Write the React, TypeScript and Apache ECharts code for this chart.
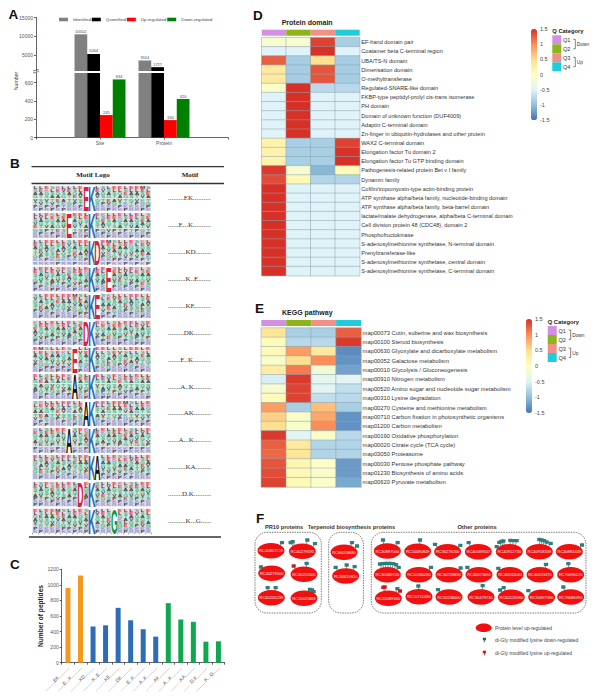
import React, { useEffect, useRef } from "react";
import * as echarts from "echarts";

const SANS = "Liberation Sans";
const SERIF = "Liberation Serif";

// Panel A
const aCategories = ["", "Site", "Protein", ""];
const aIdentified = [null, 10502, 3514, null];
const aQuantified = [null, 5244, 1727, null];
const aUp = [null, 245, 190, null];
const aDown = [null, 634, 420, null];
const aUpperTicks = [5000, 10000, 15000];
const aLowerTicks = [0, 200, 400, 600];

// Panels B and C
const motifStrings = [
  ".........EK..........",
  "......E...K..........",
  "..........KD.........",
  "..........K..E.......",
  "..........KE.........",
  ".........DK..........",
  ".......E..K..........",
  ".......A..K..........",
  ".........AK..........",
  "......A...K..........",
  "..........KA.........",
  "........D.K..........",
  "..........K...G......",
];
const motifLetter = ["E", "E", "D", "E", "E", "D", "E", "A", "A", "A", "A", "D", "G"];
const motifColumn = [9, 6, 11, 13, 11, 9, 7, 7, 9, 6, 11, 8, 14];
const peptideCounts = [960, 1120, 465, 480, 705, 545, 430, 335, 765, 555, 525, 270, 275];
const peptideGroup = ["o", "o", "b", "b", "b", "b", "b", "b", "g", "g", "g", "g", "g"];

const logoLettersA = [
  "LLESKLLLEELLSLEELEEMS",
  "SEKLEVESLLSEVSLLSLLEL",
  "AAGSGSAGAGTAGASGEAASE",
  "GTSAAGTEVKAVSGTAGSTVA",
  "VSVTEATVSSLGTEAVTGVKT",
  "TVTVTKGPTGESPVGTKTPGG",
  "PKPKPTKKPKGKKKKPKKKKP",
  "KPRPKPRRKRPRRPRKPRRPK",
];
const logoLettersB = [
  "ELSLLEKLSLEELSEKLLELL",
  "LSELVLESEESLEVLSEEKSE",
  "GEASAGGAASAGSAGESAGAA",
  "SAGVGTSTGTGVTGSAGTSGS",
  "ATVETVAGVGVTAVTVTSATV",
  "PGTGSPTESPTSPTPGVPTPT",
  "KKPKPKPKKKPKRKKPKKPKK",
  "RPKRKRKPRPKRPPRKPRKRP",
];
const logoBandTints = ["#EAD9DC", "#EAD9DC", "#CFE6DC", "#CFE6DC", "#D3DFD6", "#D3DFD6", "#D9D8EA", "#D9D8EA"];

// Panel D
const qCategories = ["Q1", "Q2", "Q3", "Q4"];
const domainNames = [
  "EF-hand domain pair",
  "Coatamer beta C-terminal region",
  "UBA/TS-N domain",
  "Dimerisation domain",
  "O-methyltransferase",
  "Regulated-SNARE-like domain",
  "FKBP-type peptidyl-prolyl cis-trans isomerase",
  "PH domain",
  "Domain of unknown function (DUF4009)",
  "Adaptin C-terminal domain",
  "Zn-finger in ubiquitin-hydrolases and other protein",
  "WAX2 C-terminal domain",
  "Elongation factor Tu domain 2",
  "Elongation factor Tu GTP binding domain",
  "Pathogenesis-related protein Bet v I family",
  "Dynamin family",
  "Cofilin/tropomyosin-type actin-binding protein",
  "ATP synthase alpha/beta family, nucleotide-binding domain",
  "ATP synthase alpha/beta family, beta-barrel domain",
  "lactate/malate dehydrogenase, alpha/beta C-terminal domain",
  "Cell division protein 48 (CDC48), domain 2",
  "Phosphofructokinase",
  "S-adenosylmethionine synthetase, N-terminal domain",
  "Prenyltransferase-like",
  "S-adenosylmethionine synthetase, central domain",
  "S-adenosylmethionine synthetase, C-terminal domain",
];
const domainValues = [
  [-0.15, -0.15, 1.4, -0.85],
  [-0.5, -0.5, 1.5, -0.5],
  [1.25, -0.87, 0.5, -0.87],
  [0.35, -0.87, 1.3, -0.87],
  [0.35, -0.87, 1.3, -0.87],
  [-0.1, 1.5, -0.75, -0.75],
  [-0.5, 1.5, -0.5, -0.5],
  [-0.5, 1.5, -0.5, -0.5],
  [-0.5, 1.5, -0.5, -0.5],
  [-0.5, 1.5, -0.5, -0.5],
  [-0.5, 1.5, -0.5, -0.5],
  [0.2, -0.85, -0.85, 1.4],
  [0.2, -0.85, -0.85, 1.5],
  [0.2, -0.85, -0.85, 1.5],
  [1.45, -0.15, -1.05, 0.05],
  [1.35, 0.1, -0.8, -0.8],
  [1.5, -0.5, -0.5, -0.5],
  [1.5, -0.5, -0.5, -0.5],
  [1.5, -0.5, -0.5, -0.5],
  [1.5, -0.5, -0.5, -0.5],
  [1.5, -0.5, -0.5, -0.5],
  [1.5, -0.5, -0.5, -0.5],
  [1.5, -0.5, -0.5, -0.5],
  [1.5, -0.5, -0.5, -0.5],
  [1.5, -0.5, -0.5, -0.5],
  [1.5, -0.5, -0.5, -0.5],
];

// Panel E
const keggNames = [
  "map00073 Cutin, suberine and wax biosynthesis",
  "map00100 Steroid biosynthesis",
  "map00630 Glyoxylate and dicarboxylate metabolism",
  "map00052 Galactose metabolism",
  "map00010 Glycolysis / Gluconeogenesis",
  "map00910 Nitrogen metabolism",
  "map00520 Amino sugar and nucleotide sugar metabolism",
  "map00310 Lysine degradation",
  "map00270 Cysteine and methionine metabolism",
  "map00710 Carbon fixation in photosynthetic organisms",
  "map01200 Carbon metabolism",
  "map00190 Oxidative phosphorylation",
  "map00020 Citrate cycle (TCA cycle)",
  "map03050 Proteasome",
  "map00030 Pentose phosphate pathway",
  "map01230 Biosynthesis of amino acids",
  "map00620 Pyruvate metabolism",
];
const keggValues = [
  [0.4, -0.85, -0.85, 1.25],
  [0.05, -0.75, -0.75, 1.45],
  [0.1, 0.9, 0.35, -1.35],
  [-0.1, 0.5, 1.0, -1.3],
  [0.3, 1.1, -0.2, -1.2],
  [-0.55, 1.45, -0.4, -0.45],
  [-0.15, 1.4, -0.45, -0.7],
  [0.05, 1.4, -0.7, -0.75],
  [0.9, -0.85, 0.7, -0.85],
  [0.6, -0.1, 0.85, -1.3],
  [0.5, -0.1, 1.0, -1.3],
  [1.45, -0.45, -0.1, -0.75],
  [1.25, 0.35, -0.8, -0.8],
  [1.2, 0.4, -0.8, -0.8],
  [1.3, 0.15, -0.05, -1.25],
  [1.35, 0.1, -0.1, -1.25],
  [1.4, 0.1, -0.1, -1.15],
];

// Panel F: network nodes and their modification pins
const proteinNodes: [string, number, number][] = [
  ["RC40817729", 63, 122], ["RC40279595", 157, 124], ["RC40279500", 65, 190], ["RC40251500", 162, 193],
  ["RC40205239", 64, 263], ["RC10025869", 162, 265], ["RC60018680", 282, 127], ["RC60019810", 287, 198],
  ["RC30897000", 412, 123], ["RC10080849", 503, 124], ["RC30276200", 593, 125], ["RC40089507", 685, 125],
  ["RC40912730", 778, 125], ["RC40918339", 868, 125], ["RC40884449", 958, 125],
  ["RC30069740", 412, 194], ["RC10080280", 507, 194], ["RC30259890", 597, 194], ["RC40071690", 687, 194],
  ["RC40532040", 780, 194], ["RC40533370", 870, 194], ["RC70096170", 962, 194],
  ["RC30089360", 415, 265], ["RC20711480", 507, 260], ["RC50236000", 597, 261], ["RC30479730", 693, 261],
  ["RC60126980", 784, 262], ["RC50397390", 875, 262], ["RC70086390", 962, 261],
];
const pinUp = 1;
const modificationPins: [number, number, number, number][] = [
  [0, 96, 98, 0], [1, 122, 98, 0], [1, 128, 95, 0], [1, 172, 90, 0], [1, 195, 101, 0],
  [2, 33, 171, 0], [3, 131, 168, 1], [3, 170, 160, 0], [4, 53, 233, 0], [4, 77, 233, 0],
  [5, 180, 238, 0], [5, 186, 240, 0], [5, 191, 245, 0],
  [6, 306, 98, 0], [6, 321, 108, 0], [7, 257, 172, 0], [7, 290, 165, 0], [7, 314, 170, 0],
  [8, 399, 90, 0], [8, 443, 98, 0], [9, 510, 90, 0], [10, 555, 103, 0], [10, 631, 106, 0], [11, 656, 98, 0],
  [12, 740, 110, 0], [12, 748, 97, 0], [12, 754, 94, 0], [12, 760, 93, 0], [12, 781, 91, 0], [12, 790, 92, 0], [12, 800, 92, 0],
  [13, 868, 88, 0], [13, 875, 90, 0], [13, 882, 92, 0], [13, 890, 96, 0], [13, 902, 100, 0], [14, 996, 105, 0],
  [15, 390, 162, 0], [15, 398, 161, 0], [15, 406, 160, 0], [15, 414, 160, 0], [15, 422, 160, 0], [15, 430, 161, 0], [15, 438, 164, 0], [15, 446, 172, 0],
  [16, 543, 172, 0], [17, 632, 174, 0], [18, 652, 172, 0], [19, 745, 175, 0], [20, 888, 163, 0], [21, 955, 161, 0],
  [22, 400, 232, 1], [22, 404, 231, 1], [22, 442, 236, 0], [22, 450, 243, 1],
  [23, 505, 228, 0], [24, 564, 239, 0], [25, 698, 227, 0], [26, 750, 240, 0], [26, 761, 233, 0], [27, 835, 242, 0], [28, 940, 231, 0],
];

const residueColor = (c: string) => {
  if ("DE".includes(c)) return "#D8283C";
  if ("STGNQYC".includes(c)) return "#2FAE83";
  if ("KRH".includes(c)) return "#8C8FC9";
  return "#222222";
};
const qColors = ["#D38FE3", "#8DB51A", "#F28F86", "#1FCCDB"];
const heatColors = ["#4575B4", "#91BFDB", "#E0F3F8", "#FFFFBF", "#FEE090", "#FC8D59", "#D73027"];
const groupColors: Record<string, string> = { o: "#F39A1E", b: "#2E6DB4", g: "#0FA74F" };
const plainNumber = (v: number) => String(v);

function buildOption() {
  const g: any[] = [];
  const T = (text: string, x: number, y: number, fontSize: number, o: any = {}) =>
    g.push({
      type: "text", x, y, silent: true, rotation: o.rotation || 0,
      style: {
        text, fontSize, fontFamily: o.font || SANS, fontWeight: o.weight || "normal",
        fill: o.fill || "#333333", align: o.align || "left", verticalAlign: "middle",
      },
    });
  const L = (x1: number, y1: number, x2: number, y2: number, stroke = "#333", lineWidth = 0.7) =>
    g.push({ type: "line", silent: true, shape: { x1, y1, x2, y2 }, style: { stroke, lineWidth } });

  [["A", 8.5, 14.5], ["B", 10, 163.5], ["C", 10, 564], ["D", 253, 15], ["E", 255, 308], ["F", 256, 518.5]].forEach(
    ([t, x, y]: any) => T(t, x, y, 13.5, { weight: "bold", fill: "#111" })
  );

  // A: axis break marks
  L(33, 71, 39, 69.5, "#333", 0.6);
  L(33, 73, 39, 71.5, "#333", 0.6);
  T("Number", 16, 81, 5.2, { rotation: Math.PI / 2, align: "center", fill: "#444" });

  // B: table rules and headers
  L(31.5, 166.7, 224, 166.7, "#333", 1.3);
  L(31.5, 183.5, 224, 183.5, "#333", 1.3);
  L(29, 537, 221, 537, "#333", 1.3);
  T("Motif Logo", 93, 175, 7, { font: SERIF, weight: "bold", align: "center", fill: "#222" });
  T("Motif", 190, 175, 7, { font: SERIF, weight: "bold", align: "center", fill: "#222" });

  // D, E titles and category keys
  T("Protein domain", 281.7, 22, 7, { weight: "bold", fill: "#222" });
  T("KEGG pathway", 282, 312, 7, { weight: "bold", fill: "#222" });
  const key = (x: number, y: number) => {
    T("Q Category", x, y - 4.3, 5.8, { weight: "bold", fill: "#222" });
    qCategories.forEach((q, i) => {
      g.push({ type: "rect", silent: true, shape: { x, y: y + i * 9, width: 9, height: 9 }, style: { fill: qColors[i] } });
      T(q, x + 10.7, y + 4.5 + i * 9, 5.6);
    });
    [[y + 4, "Down"], [y + 22, "Up"]].forEach(([by, label]: any) => {
      g.push({
        type: "polyline", silent: true,
        shape: { points: [[x + 21, by], [x + 23, by], [x + 23, by + 9.4], [x + 21, by + 9.4]] },
        style: { stroke: "#333", lineWidth: 0.6, fill: "none" },
      });
      T(label, x + 24.5, by + 5, 4.8);
    });
  };
  key(552.3, 35.3);
  key(547.7, 326);

  // F: boxes, titles and key
  [[255, 66.3], [328.7, 34.7], [371.3, 214.7]].forEach(([x, width]) =>
    g.push({
      type: "rect", silent: true, shape: { x, y: 532.3, width, height: 80.7, r: 12 },
      style: { fill: "none", stroke: "#444", lineWidth: 0.7, lineDash: [1.5, 1] },
    })
  );
  T("PR10 proteins", 284, 527, 5.7, { weight: "bold", align: "center" });
  T("Terpenoid biosynthesis proteins", 351.5, 527, 5.7, { weight: "bold", align: "center" });
  T("Other proteins", 477, 527, 5.7, { weight: "bold", align: "center" });
  g.push({ type: "ellipse", silent: true, shape: { cx: 483.7, cy: 627.7, rx: 8, ry: 4.3 }, style: { fill: "#F01010" } });
  [[639.7, "#2E5F68"], [652.7, "#C81822"]].forEach(([y, fill]: any) => {
    g.push({ type: "rect", silent: true, shape: { x: 482.8, y: y - 2, width: 3.2, height: 2.6 }, style: { fill } });
    L(484.4, y + 0.5, 484.4, y + 2.5, fill, 1);
  });
  T("Protein level up-regulated", 495, 627.7, 5, { fill: "#444" });
  T("di-Gly modified lysine down-regulated", 495, 639.7, 5, { fill: "#444" });
  T("di-Gly modified lysine up-regulated", 495, 652.7, 5, { fill: "#444" });

  const grid: any[] = [];
  const xAxis: any[] = [];
  const yAxis: any[] = [];
  const series: any[] = [];
  const addGrid = (left: number, top: number, width: number, height: number, x: any, y: any) => {
    grid.push({ left, top, width, height, containLabel: false });
    const i = grid.length - 1;
    xAxis.push({ gridIndex: i, ...x });
    yAxis.push({ gridIndex: i, ...y });
    return i;
  };
  const hiddenCat = (data: any[]) => ({ type: "category", data, show: false });

  // A: broken-axis bars
  const numLabel = { fontSize: 5, color: "#555", margin: 3, fontFamily: SANS, formatter: plainNumber };
  const blackLine = { show: true, lineStyle: { color: "#222", width: 0.7 } };
  const blackTick = { show: true, length: 2, lineStyle: { color: "#222", width: 0.7 } };
  const aUpper = addGrid(36, 17.5, 192, 53.5, { type: "category", data: aCategories, boundaryGap: false, show: false }, {
    type: "value", min: 700, max: 15000, splitLine: { show: false }, axisLine: blackLine,
    axisTick: { ...blackTick, customValues: aUpperTicks },
    axisLabel: { ...numLabel, customValues: aUpperTicks },
  });
  const aLower = addGrid(36, 73, 192, 64.5, {
    type: "category", data: aCategories, boundaryGap: false, axisLine: blackLine,
    axisTick: { ...blackTick, interval: 0 },
    axisLabel: { fontSize: 5, color: "#555", fontFamily: SANS, interval: 0, margin: 3 },
  }, {
    type: "value", min: 0, max: 704, splitLine: { show: false }, axisLine: blackLine,
    axisTick: { ...blackTick, customValues: aLowerTicks },
    axisLabel: { ...numLabel, customValues: aLowerTicks },
  });
  const aSeries: [string, any[], string, boolean][] = [
    ["Identified", aIdentified, "#808080", true],
    ["Quantified", aQuantified, "#000000", true],
    ["Up-regulated", aUp, "#FF0000", false],
    ["Down-regulated", aDown, "#008000", false],
  ];
  aSeries.forEach(([name, data, color, tall]) => {
    const label = { show: true, position: "top", fontSize: 4, color: "#444", distance: 1, fontFamily: SANS };
    series.push({
      type: "bar", name, xAxisIndex: aUpper, yAxisIndex: aUpper, barWidth: 12.75, barGap: 0,
      data: data.map((v) => (tall ? v : null)), itemStyle: { color }, label, silent: true,
    });
    series.push({
      type: "bar", name, xAxisIndex: aLower, yAxisIndex: aLower, barWidth: 12.75, barGap: 0,
      data, itemStyle: { color }, label: { ...label, show: !tall }, silent: true,
    });
  });

  // B: sequence logos
  const logo = addGrid(32.5, 185, 118.5, 349.3, {
    type: "value", min: 0, max: 21, interval: 1, splitLine: { show: false }, axisLine: { show: false },
    axisLabel: { show: false }, axisTick: { show: true, inside: true, length: 1.6, lineStyle: { color: "#888", width: 0.8 } },
  }, {
    type: "category", inverse: true, position: "right", data: motifStrings,
    axisLine: { show: false }, axisTick: { show: false },
    axisLabel: { interval: 0, margin: 17, fontSize: 7, fontFamily: SERIF, color: "#333" },
  });
  series.push({
    type: "custom", xAxisIndex: logo, yAxisIndex: logo, silent: true, clip: false,
    encode: { x: 0, y: 1 }, data: motifStrings.map((_, i) => [0, i]),
    renderItem: (params: any, api: any) => {
      const i = api.value(1);
      const [x0, cy] = api.coord([0, i]);
      const w = api.size([1, 0])[0];
      const H = 24.6;
      const top = cy - H / 2;
      const rows = i % 2 ? logoLettersB : logoLettersA;
      const children: any[] = [];
      const bigColumn = motifColumn[i];
      logoBandTints.forEach((fill, r) =>
        children.push({ type: "rect", shape: { x: x0, y: top + (r * H) / 8, width: w * 21, height: H / 8 + 0.1 }, style: { fill } })
      );
      rows.forEach((row, r) => {
        for (let c = 0; c < 21; c++) {
          if (c === 10 || c === bigColumn) continue;
          const ch = row[(c + i * 3) % 21];
          children.push({
            type: "text", x: x0 + (c + 0.5) * w, y: top + (r + 0.5) * (H / 8), scaleX: 1.4, scaleY: 0.95,
            style: {
              text: ch, fontSize: 4.5, fontWeight: "bold", fontFamily: SANS, opacity: 0.85,
              fill: residueColor(ch), align: "center", verticalAlign: "middle",
            },
          });
        }
      });
      const big = (ch: string, col: number, fill: string, wide: number) => {
        children.push({
          type: "rect", shape: { x: x0 + col * w, y: top, width: w, height: H }, style: { fill: "#FFFFFF" },
        });
        children.push({
          type: "text", x: x0 + (col + 0.5) * w, y: cy + 0.6, scaleX: (w * wide) / 13.3, scaleY: H / 14.3,
          style: {
            text: ch, fontSize: 20, fontWeight: "bold", fontFamily: SANS, fill,
            align: "center", verticalAlign: "middle",
          },
        });
      };
      big("K", 10, "#2F6DB5", 1.25);
      const letter = motifLetter[i];
      big(letter, bigColumn, letter === "G" ? "#0B9B4A" : letter === "A" ? "#111111" : "#D8213A", 1.02);
      return { type: "group", children };
    },
  });

  // C: peptide counts
  const c = addGrid(61.7, 569.3, 163, 93.4, {
    type: "category", data: motifStrings, axisLine: blackLine, axisTick: blackTick,
    axisLabel: { interval: 0, rotate: 45, fontSize: 5, color: "#555", margin: 4, fontFamily: SANS },
  }, {
    type: "value", min: 0, max: 1200, interval: 200, splitLine: { show: false }, axisLine: blackLine, axisTick: blackTick,
    axisLabel: numLabel, name: "Number of peptides", nameLocation: "middle", nameGap: 18,
    nameTextStyle: { fontSize: 6.6, fontWeight: "bold", color: "#222", fontFamily: SANS },
  });
  series.push({
    type: "bar", name: "Peptides", xAxisIndex: c, yAxisIndex: c, barWidth: 5, silent: true,
    data: peptideCounts.map((value, i) => ({ value, itemStyle: { color: groupColors[peptideGroup[i]] } })),
  });

  // D, E: heatmaps with annotation bars and colour scales
  const visualMap: any[] = [];
  const heat = (
    left: number, width: number, annTop: number, top: number, height: number,
    names: string[], values: number[][], labelFont: number,
    barLeft: number, barTop: number, barH: number
  ) => {
    const a = addGrid(left, annTop, width, 6, { ...hiddenCat(qCategories) }, {
      type: "value", min: 0, max: 1, show: false,
    });
    series.push({
      type: "bar", xAxisIndex: a, yAxisIndex: a, barCategoryGap: 0, silent: true,
      data: qCategories.map((_, i) => ({ value: 1, itemStyle: { color: qColors[i] } })),
    });
    const h = addGrid(left, top, width, height, hiddenCat(qCategories), {
      type: "category", data: names, inverse: true, position: "right",
      axisLine: { show: false }, axisTick: { show: false },
      axisLabel: { interval: 0, margin: 1.6, fontSize: labelFont, color: "#333", fontFamily: SANS },
    });
    series.push({
      type: "heatmap", xAxisIndex: h, yAxisIndex: h, silent: true, progressive: 0,
      itemStyle: { borderColor: "#8FA3AE", borderWidth: 0.5 },
      data: values.flatMap((row, y) => row.map((v, x) => [x, y, v])),
    });
    visualMap.push({
      type: "continuous", min: -1.5, max: 1.5, seriesIndex: series.length - 1, calculable: false,
      hoverLink: false, realtime: false, inRange: { color: heatColors }, text: ["", ""], padding: 0,
      itemWidth: 6, itemHeight: barH, left: barLeft, top: barTop, orient: "vertical", align: "left",
      textStyle: { fontSize: 1 },
    });
    addGrid(barLeft, barTop, 6, barH, { type: "value", min: 0, max: 1, show: false }, {
      type: "value", min: -1.5, max: 1.5, interval: 0.5, position: "right", splitLine: { show: false },
      axisLine: { show: false }, axisTick: { show: false },
      axisLabel: { fontSize: 5.5, color: "#444", margin: 3, fontFamily: SANS },
    });
  };
  heat(261.7, 98, 29.7, 37.7, 238, domainNames, domainValues, 5.6, 531, 29, 91.3);
  heat(261.3, 99.7, 320, 328, 159, keggNames, keggValues, 5.8, 526, 319, 94);

  // F: protein network drawn on a panel-sized coordinate system
  const f = addGrid(250, 510, 356, 110,
    { type: "value", min: 0, max: 1068, show: false },
    { type: "value", min: 0, max: 330, inverse: true, show: false });
  series.push({
    type: "custom", xAxisIndex: f, yAxisIndex: f, silent: true, clip: false, z: 2,
    encode: { x: 1, y: 2 }, data: modificationPins,
    renderItem: (params: any, api: any) => {
      const node = proteinNodes[api.value(0)];
      const [hx, hy] = api.coord([api.value(1), api.value(2)]);
      const [nx, ny] = api.coord([node[1], node[2]]);
      const fill = api.value(3) === pinUp ? "#D01822" : "#2E7F7B";
      return {
        type: "group",
        children: [
          { type: "line", shape: { x1: hx, y1: hy, x2: hx + (nx - hx) * 0.45, y2: ny }, style: { stroke: "#2B4F55", lineWidth: 0.6 } },
          { type: "rect", shape: { x: hx - 2.1, y: hy - 1.7, width: 4.2, height: 3.4, r: 0.5 }, style: { fill } },
        ],
      };
    },
  });
  series.push({
    type: "scatter", xAxisIndex: f, yAxisIndex: f, symbol: "circle", symbolSize: [27, 15.5], silent: true, z: 3,
    itemStyle: { color: "#F01010", opacity: 1 },
    label: { show: true, position: "inside", formatter: "{b}", fontSize: 4, color: "#FFE8E8", fontFamily: SANS },
    data: proteinNodes.map(([name, x, y]) => ({ name, value: [x, y] })),
  });

  return {
    animation: false,
    backgroundColor: "#ffffff",
    textStyle: { fontFamily: SANS },
    legend: {
      data: aSeries.map((s) => s[0]), left: 59, top: 17.5, itemWidth: 9, itemHeight: 3.6, itemGap: 1, padding: 0,
      icon: "rect", selectedMode: false, textStyle: { fontSize: 4.4, color: "#444", fontFamily: SANS },
    },
    grid, xAxis, yAxis, series, visualMap,
    graphic: { elements: g },
  };
}

export default function App() {
  const ref = useRef<HTMLDivElement>(null);
  useEffect(() => {
    const chart = echarts.init(ref.current!, undefined, { renderer: "svg" });
    chart.setOption(buildOption() as any);
    return () => chart.dispose();
  }, []);
  return <div ref={ref} style={{ position: "absolute", left: 0, top: 0, width: 606, height: 700, background: "#fff" }} />;
}
